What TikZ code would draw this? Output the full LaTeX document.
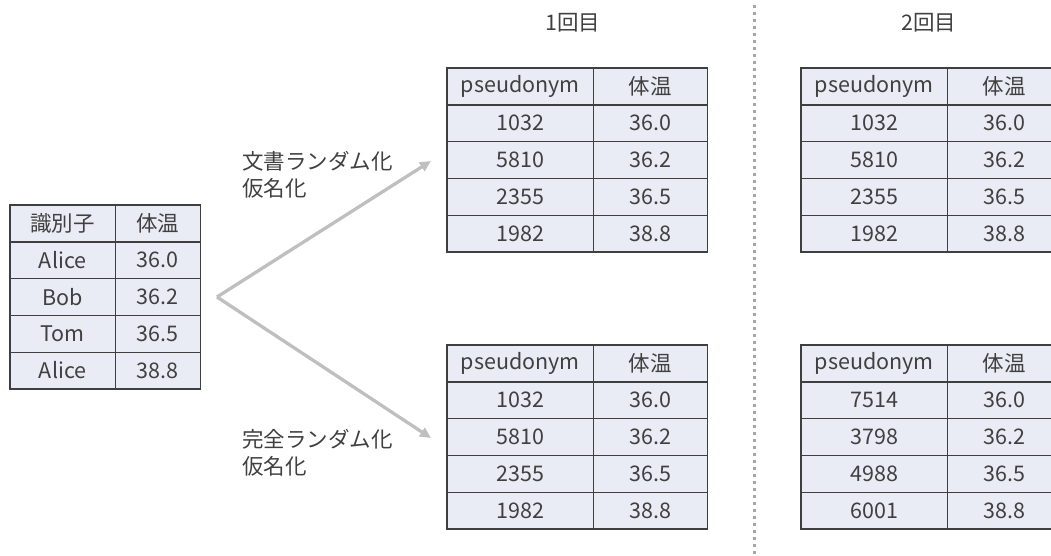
\documentclass[tikz,border=0pt]{standalone}
\usepackage{fontspec}
\setmainfont{Noto Sans CJK JP}
\usetikzlibrary{arrows.meta}
\definecolor{cellfill}{HTML}{E9EBF5}
\definecolor{rulec}{HTML}{3F3F3F}
\definecolor{txt}{HTML}{404040}
\definecolor{arrc}{HTML}{BFBFBF}
\definecolor{dotc}{HTML}{A6A6A6}
\tikzset{
  cell/.style={inner sep=0pt, anchor=north west, minimum height=36.7pt, text=txt,
    font=\fontsize{21.5}{25}\selectfont},
  tablebg/.style={fill=cellfill},
  grid/.style={draw=rulec, line width=1.3pt},
  lbl/.style={text=txt, align=left, anchor=west, inner sep=0pt,
    font=\fontsize{21.5}{27}\selectfont},
  ttl/.style={text=txt, inner sep=0pt, font=\fontsize{21.5}{25}\selectfont},
  conn/.style={draw=arrc, line width=3.3pt, -{Triangle[length=11pt,width=10pt]}},
  sep/.style={draw=dotc, line width=3pt, dash pattern=on 3pt off 4pt},
}
\newcommand\ptable[6]{%
  \fill[tablebg] ({#2},{#3}) rectangle ({#2+#4+#5},{#3+5*36.7});
  \foreach \a/\b [count=\i from 0] in {#6} {
    \node[cell, minimum width=#4pt] (#1-\i-1) at ({#2},{#3+\i*36.7}) {\a};
    \node[cell, minimum width=#5pt] (#1-\i-2) at ({#2+#4},{#3+\i*36.7}) {\b};
  }%
  \foreach \i in {0,1,2,3}
    \draw[grid] (#1-\i-1.south west) -- (#1-\i-2.south east);
  \draw[grid] (#1-0-1.north east) -- (#1-4-1.south east);
  \draw[grid] (#1-0-1.north west) rectangle (#1-4-2.south east);
}
\begin{document}
\begin{tikzpicture}[x=1pt,y=-1pt]
\useasboundingbox (0,0) rectangle (1051,556);
\clip (0,0) rectangle (1051,556);
% separator
\coordinate (s1) at (754,5);
\coordinate (s2) at (754,556);
\draw[sep] (s1) -- (s2);
% titles
\node[ttl] (t1) at (573,23) {1回目};
\node[ttl] (t2) at (929,23) {2回目};
% left table
\ptable{L}{10}{205}{105}{85}{識別子/体温, Alice/36.0, Bob/36.2, Tom/36.5, Alice/38.8}
% middle tables
\ptable{A}{447}{68}{146}{114}{pseudonym/体温, 1032/36.0, 5810/36.2, 2355/36.5, 1982/38.8}
\ptable{B}{447}{345}{146}{114}{pseudonym/体温, 1032/36.0, 5810/36.2, 2355/36.5, 1982/38.8}
% right tables
\ptable{C}{801}{68}{146}{114}{pseudonym/体温, 1032/36.0, 5810/36.2, 2355/36.5, 1982/38.8}
\ptable{D}{801}{345}{146}{114}{pseudonym/体温, 7514/36.0, 3798/36.2, 4988/36.5, 6001/38.8}
% arrows
\coordinate (v) at (217,297);
\coordinate (e1) at (431,161);
\coordinate (e2) at (431,438);
\draw[conn] (v) -- (e1);
\draw[conn] (v) -- (e2);
% labels
\node[lbl] (l1) at (242,175) {文書ランダム化\\仮名化};
\node[lbl] (l2) at (242,453) {完全ランダム化\\仮名化};
\end{tikzpicture}
\end{document}
